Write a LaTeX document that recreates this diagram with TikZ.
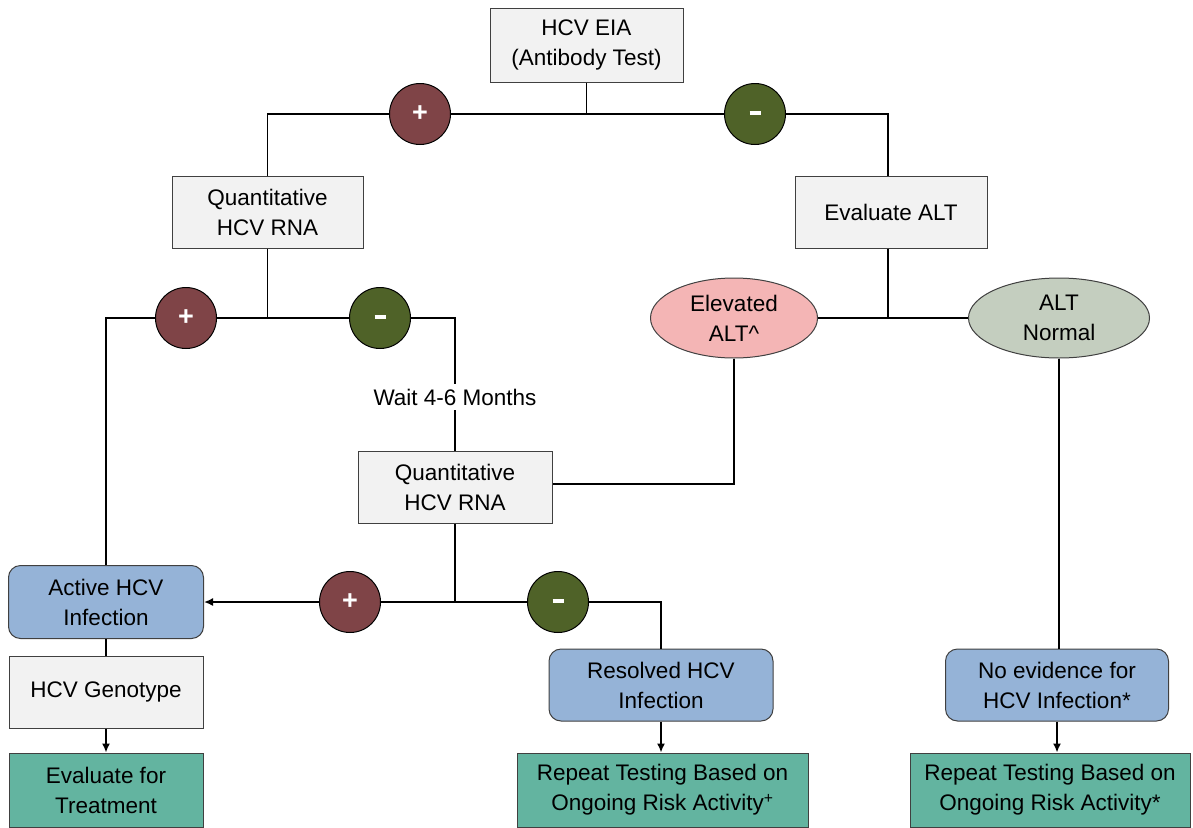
\documentclass[tikz,border=0pt]{standalone}
\usepackage{fontspec}
\setmainfont{Liberation Sans}
\usetikzlibrary{arrows.meta,shapes.geometric}
\definecolor{boxgray}{HTML}{F2F2F2}
\definecolor{boxblue}{HTML}{95B3D7}
\definecolor{boxteal}{HTML}{63B4A0}
\definecolor{plusred}{HTML}{7F4447}
\definecolor{minusgreen}{HTML}{4F6228}
\definecolor{elevpink}{HTML}{F4B5B5}
\definecolor{normgreen}{HTML}{C4CEBF}
\newcommand{\minusbar}{\raisebox{3pt}{\rule{11pt}{4pt}}}
\begin{document}
\begin{tikzpicture}[x=1pt,y=-1pt,
  every node/.style={font=\fontsize{22.5}{30}\selectfont, align=center, inner sep=0pt},
  graybox/.style={draw=black!75, line width=1pt, fill=boxgray},
  bluebox/.style={draw=black!75, line width=1pt, fill=boxblue, rounded corners=12pt},
  tealbox/.style={draw=black!75, line width=1pt, fill=boxteal},
  oval/.style={ellipse, draw=black!75, line width=1pt},
  sign/.style={circle, draw=black, line width=1pt, minimum size=61pt, text=white, font=\fontsize{27}{30}\selectfont\bfseries},
  possign/.style={sign, fill=plusred},
  negsign/.style={sign, fill=minusgreen},
  conn/.style={draw=black, line width=1.6pt},
  arr/.style={conn, -{Latex[length=9pt,width=8pt]}}
]
\useasboundingbox (0,0) rectangle (1193,827);

% nodes
\node[graybox, minimum width=193pt, minimum height=74pt] (eia) at (586.5,45) {HCV EIA\\(Antibody Test)};
\node[graybox, minimum width=191pt, minimum height=72pt] (q1) at (267.5,212) {Quantitative\\HCV RNA};
\node[graybox, minimum width=192pt, minimum height=72pt] (alt) at (891,212) {Evaluate ALT};
\node[oval, fill=elevpink, minimum width=167pt, minimum height=80pt] (elev) at (734,318) {Elevated\\ALT\^{}};
\node[oval, fill=normgreen, minimum width=181pt, minimum height=80pt] (norm) at (1059,318) {ALT\\Normal};
\node[graybox, minimum width=194pt, minimum height=72pt] (q2) at (455,487) {Quantitative\\HCV RNA};
\node[inner ysep=5pt] (wait) at (455,397) {Wait 4-6 Months};
\node[bluebox, minimum width=195pt, minimum height=73pt] (active) at (106,602) {Active HCV\\Infection};
\node[graybox, minimum width=194pt, minimum height=72pt] (geno) at (106,692) {HCV Genotype};
\node[tealbox, minimum width=194pt, minimum height=74pt] (evalt) at (106,790) {Evaluate for\\Treatment};
\node[bluebox, minimum width=224pt, minimum height=72pt] (resolved) at (661,685) {Resolved HCV\\Infection};
\node[tealbox, minimum width=291pt, minimum height=74pt] (rep1) at (662.5,790) {Repeat Testing Based on\\Ongoing Risk Activity\textsuperscript{+}};
\node[bluebox, minimum width=223pt, minimum height=72pt] (noev) at (1057,685) {No evidence for\\HCV Infection*};
\node[tealbox, minimum width=280pt, minimum height=74pt] (rep2) at (1050,790) {Repeat Testing Based on\\Ongoing Risk Activity*};

\node[possign] (p1) at (420,114) {+};
\node[negsign] (m1) at (755,114) {\minusbar};
\node[possign] (p2) at (186,318) {+};
\node[negsign] (m2) at (380,318) {\minusbar};
\node[possign] (p3) at (350,602) {+};
\node[negsign] (m3) at (558,602) {\minusbar};

\coordinate (j3) at (888,318);

% connectors
\draw[conn] (eia.south) -- (eia.south |- p1.east);
\draw[conn] (q1.north) |- (p1.west);
\draw[conn] (p1.east) -- (m1.west);
\draw[conn] (m1.east) -| (j3 |- alt.north);

\draw[conn] (q1.south) -- (q1.south |- p2.east);
\draw[conn] (p2.west) -| (active.north);
\draw[conn] (p2.east) -- (m2.west);
\draw[conn] (m2.east) -| (wait.north);
\draw[conn] (wait.south) -- (q2.north);

\draw[conn] (j3 |- alt.south) -- (j3);
\draw[conn] (elev.east) -- (norm.west);
\draw[conn] (elev.south) |- ([yshift=3pt]q2.east);
\draw[conn] (norm.south) -- (norm.south |- noev.north);

\draw[conn] (q2.south) |- (p3.east);
\draw[arr] (p3.west) -- (active.east);
\draw[conn] (p3.east) -- (m3.west);
\draw[conn] (m3.east) -| (resolved.north);

\draw[conn] (active.south) -- (geno.north);
\draw[arr] (geno.south) -- (evalt.north);
\draw[arr] (resolved.south) -- (resolved.south |- rep1.north);
\draw[arr] (noev.south) -- (noev.south |- rep2.north);
\end{tikzpicture}
\end{document}
